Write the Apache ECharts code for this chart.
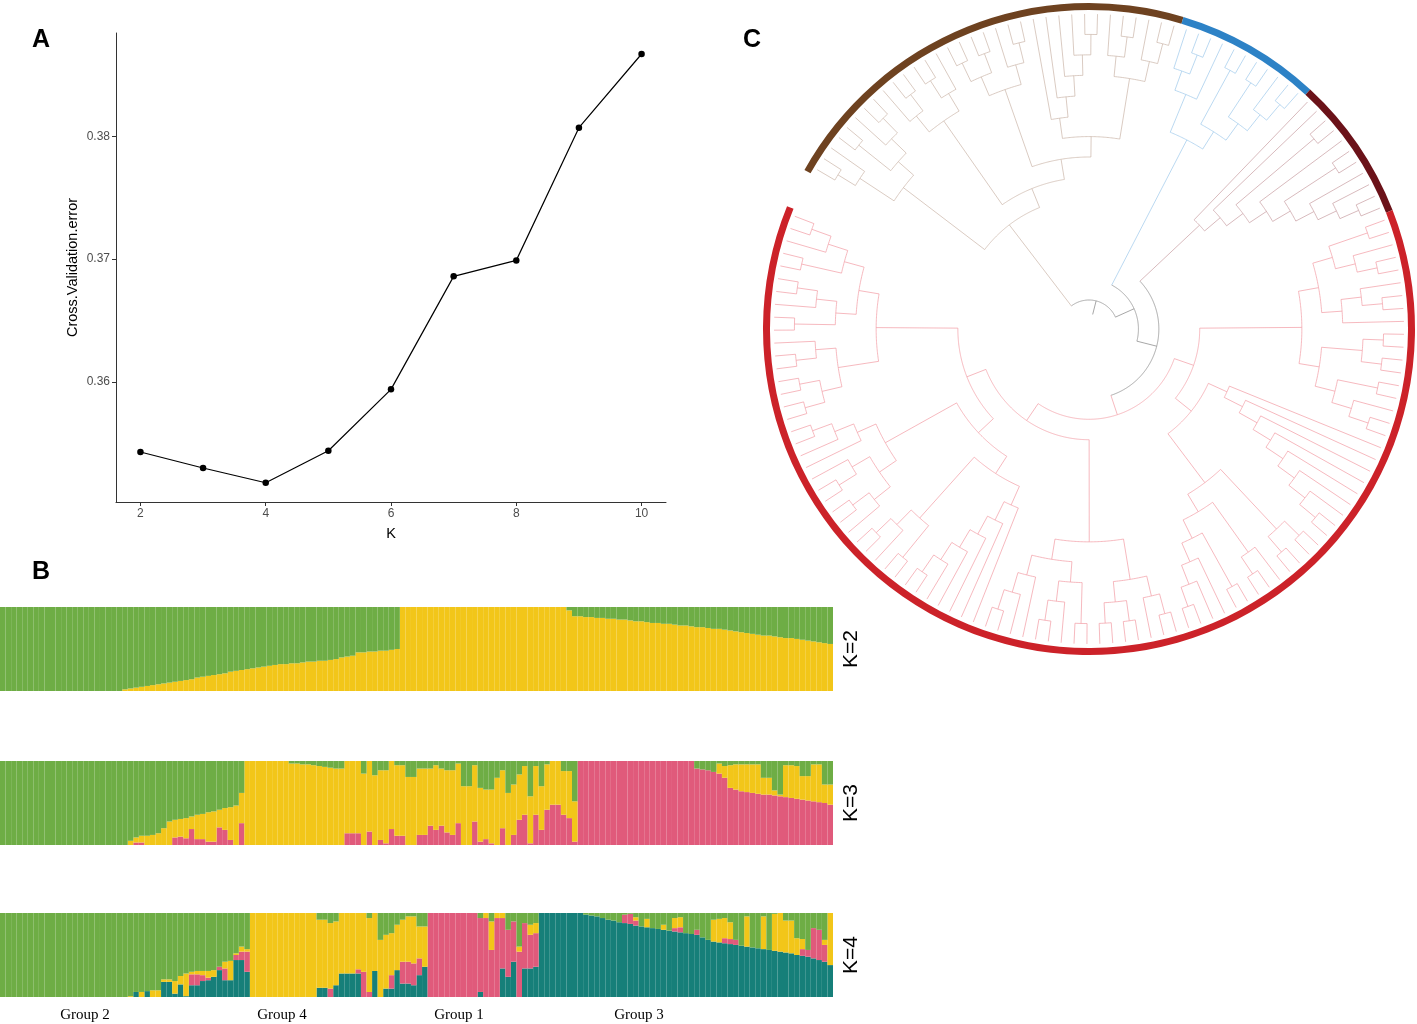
<!DOCTYPE html>
<html>
<head>
<meta charset="utf-8">
<title>ADMIXTURE cross-validation, ancestry and tree</title>
<script src="https://cdn.jsdelivr.net/npm/echarts@6.0.0/dist/echarts.min.js"></script>
<style>
  html, body { margin: 0; padding: 0; background: #ffffff; }
  #main { width: 1417px; height: 1024px; }
</style>
</head>
<body>
<div id="main"></div>
<script>
// ---- panel A: cross-validation error by K
const kValues = [2, 3, 4, 5, 6, 7, 8, 9, 10];
const cvError = [0.3543, 0.3530, 0.3518, 0.3544, 0.3594, 0.3686, 0.3699, 0.3807, 0.3867];
const kTicks = [2, 4, 6, 8, 10];
const cvTicks = [0.36, 0.37, 0.38];

// ---- panel B: ancestry proportions (%) per individual, 150 individuals
const k2Yellow = [
  0,0,0,0,0,0,0,0,0,0,
  0,0,0,0,0,0,0,0,0,0,
  0,0,2,3,4,5,6,7,8,9,
  10,11,12,13,14,16,17,18,19,20,
  21,23,24,25,26,27,28,29,30,31,
  32,32,33,33,34,35,35,36,36,37,
  38,40,41,42,46,46,47,47,48,48,
  49,50,100,100,100,100,100,100,100,100,
  100,100,100,100,100,100,100,100,100,100,
  100,100,100,100,100,100,100,100,100,100,
  100,100,96,89,89,88,88,87,87,86,
  86,85,85,84,83,83,82,81,81,80,
  80,79,78,78,77,76,76,75,74,74,
  73,72,71,70,69,68,67,66,66,65,
  64,63,63,62,61,60,59,58,57,56
];
const k2Green = [
  100,100,100,100,100,100,100,100,100,100,
  100,100,100,100,100,100,100,100,100,100,
  100,100,98,97,96,95,94,93,92,91,
  90,89,88,87,86,84,83,82,81,80,
  79,77,76,75,74,73,72,71,70,69,
  68,68,67,67,66,65,65,64,64,63,
  62,60,59,58,54,54,53,53,52,52,
  51,50,0,0,0,0,0,0,0,0,
  0,0,0,0,0,0,0,0,0,0,
  0,0,0,0,0,0,0,0,0,0,
  0,0,4,11,11,12,12,13,13,14,
  14,15,15,16,17,17,18,19,19,20,
  20,21,22,22,23,24,24,25,26,26,
  27,28,29,30,31,32,33,34,34,35,
  36,37,37,38,39,40,41,42,43,44
];

const k3Pink = [
  0,0,0,0,0,0,0,0,0,0,
  0,0,0,0,0,0,0,0,0,0,
  0,0,0,0,3,3,0,0,0,0,
  0,9,10,8,19,7,7,4,4,21,
  18,6,0,26,0,0,0,0,0,0,
  0,0,0,0,0,0,0,0,0,0,
  0,0,14,14,14,0,16,0,6,2,
  19,11,11,0,0,12,12,23,18,23,
  15,12,26,0,0,28,4,7,2,0,
  20,0,12,30,36,2,36,18,42,48,
  48,36,32,4,100,100,100,100,100,100,
  100,100,100,100,100,100,100,100,100,100,
  100,100,100,100,100,91,90,89,87,85,
  80,68,66,64,63,62,61,60,60,59,
  58,57,56,55,54,53,52,51,50,48
];
const k3Yellow = [
  0,0,0,0,0,0,0,0,0,0,
  0,0,0,0,0,0,0,0,0,0,
  0,0,0,5,6,8,11,12,14,20,
  28,21,21,24,15,29,30,35,36,21,
  26,39,47,36,100,100,100,100,100,100,
  100,100,97,97,96,96,95,94,93,92,
  91,91,86,86,86,85,84,83,83,87,
  81,84,84,81,81,79,79,68,77,68,
  74,77,71,70,70,67,64,59,64,80,
  69,62,60,54,58,56,58,52,54,52,
  52,52,56,48,0,0,0,0,0,0,
  0,0,0,0,0,0,0,0,0,0,
  0,0,0,0,0,0,0,0,0,12,
  14,27,30,32,33,34,35,20,20,6,
  2,38,39,39,28,29,44,45,22,24
];
const k3Green = [
  100,100,100,100,100,100,100,100,100,100,
  100,100,100,100,100,100,100,100,100,100,
  100,100,100,95,91,89,89,88,86,80,
  72,70,69,68,66,64,63,61,60,58,
  56,55,53,38,0,0,0,0,0,0,
  0,0,3,3,4,4,5,6,7,8,
  9,9,0,0,0,15,0,17,11,11,
  0,5,5,19,19,9,9,9,5,9,
  11,11,3,30,30,5,32,34,34,20,
  11,38,28,16,6,42,6,30,4,0,
  0,12,12,48,0,0,0,0,0,0,
  0,0,0,0,0,0,0,0,0,0,
  0,0,0,0,0,9,10,11,13,3,
  6,5,4,4,4,4,4,20,20,35,
  40,5,5,6,18,18,4,4,28,28
];

const k4Teal = [
  0,0,0,0,0,0,0,0,0,0,
  0,0,0,0,0,0,0,0,0,0,
  0,0,0,0,6,0,7,0,0,18,
  18,4,15,1,14,14,19,20,24,32,
  20,20,44,44,30,0,0,0,0,0,
  0,0,0,0,0,0,0,11,11,0,
  14,28,28,28,28,0,0,31,0,10,
  10,32,16,16,14,26,36,0,0,0,
  0,0,0,0,0,0,6,0,0,0,
  34,24,42,0,34,34,36,100,100,100,
  100,100,100,100,100,98,97,96,94,92,
  91,89,88,87,85,84,83,82,81,80,
  79,78,77,76,75,74,71,68,66,65,
  64,63,62,61,60,59,58,57,56,55,
  54,53,52,50,49,48,46,44,42,38
];
const k4Pink = [
  0,0,0,0,0,0,0,0,0,0,
  0,0,0,0,0,0,0,0,0,0,
  0,0,0,0,0,0,0,0,0,0,
  0,0,0,0,13,13,7,3,0,4,
  14,0,6,10,24,0,0,0,0,0,
  0,0,0,0,0,0,0,0,0,10,
  0,0,0,0,5,30,6,0,0,0,
  16,0,26,26,26,20,0,100,100,100,
  100,100,100,100,100,100,88,94,56,94,
  60,56,48,54,54,40,40,0,0,0,
  0,0,0,0,0,0,0,0,0,0,
  0,0,10,12,6,0,0,0,0,0,
  0,4,6,0,0,6,0,0,0,0,
  6,6,6,0,0,0,0,0,0,0,
  0,0,0,0,8,8,36,36,20,0
];
const k4Yellow = [
  0,0,0,0,0,0,0,0,0,0,
  0,0,0,0,0,0,0,0,0,0,
  0,0,0,1,0,6,0,8,8,3,
  3,15,10,27,3,4,5,8,8,0,
  8,23,2,6,3,100,100,100,100,100,
  100,100,100,100,100,100,100,81,81,78,
  76,72,72,72,67,70,88,69,68,64,
  50,54,50,54,56,38,48,0,0,0,
  0,0,0,0,0,0,0,6,34,6,
  6,0,0,6,0,12,12,0,0,0,
  0,0,0,0,0,0,0,0,0,0,
  0,0,0,0,4,0,10,0,0,6,
  0,12,12,0,0,0,0,0,26,28,
  24,20,0,0,36,0,0,39,0,44,
  46,38,39,20,12,0,0,0,6,62
];
const k4Green = [
  100,100,100,100,100,100,100,100,100,100,
  100,100,100,100,100,100,100,100,100,100,
  100,100,100,99,94,94,93,92,92,79,
  79,81,75,72,70,69,69,69,68,64,
  58,57,48,40,43,0,0,0,0,0,
  0,0,0,0,0,0,0,8,8,12,
  10,0,0,0,0,0,6,0,32,26,
  24,14,8,4,4,16,16,0,0,0,
  0,0,0,0,0,0,6,0,10,0,
  0,20,10,40,12,14,12,0,0,0,
  0,0,0,0,0,2,3,4,6,8,
  9,11,2,1,5,16,7,18,19,14,
  21,6,5,24,25,20,29,32,8,7,
  6,11,32,39,4,41,42,4,44,1,
  0,9,9,30,31,44,18,20,32,0
];
const kLabels = ['K=2', 'K=3', 'K=4'];
const groupNames = ['Group 2', 'Group 4', 'Group 1', 'Group 3'];

// ---- panel C: tree topology, leaves are 1, read clockwise
const brownA = [[[1, 1], 1], [[1, 1], [1, [1, 1]]]];
const brownB = [[1, [1, 1]], [[1, 1], 1]];
const brownC = [[[1, 1], [1, 1]], [1, [1, 1]]];
const brownD = [1, [1, [1, [1, [1, 1]]]]];
const brownE = [[1, [1, 1]], [1, [1, 1]]];
const blueTree = [[[1, [1, 1]], 1], [[1, 1], [[1, 1], [1, [1, 1]]]]];
const maroonTree = [1, [1, [[1, 1], [1, [[1, 1], [1, [1, [1, 1]]]]]]]];
const redR1 = [[[[1, 1], [1, [1, 1]]], [[1, [1, 1]], 1]], [[[1, 1], [1, 1]], [[1, 1], [1, [1, 1]]]]];
const redR2 = [[1, [1, [1, [1, [1, [1, [1, [1, 1]]]]]]]], [[[1, 1], [1, 1]], [[1, [1, 1]], [[1, 1], [1, [1, [1, 1]]]]]]];
const redR3 = [[[[1, 1], 1], [[1, 1], [1, 1]]], [[[1, 1], [1, [1, 1]]], [1, [1, [1, 1]]]]];
const redR4 = [[[1, [1, [1, [1, [1, [1, 1]]]]]], [[1, 1], [1, [1, 1]]]], [[[1, [1, 1]], [[1, 1], 1]], [1, [1, [1, 1]]]]];
const redR5 = [[[[1, 1], [1, 1]], [[1, 1], 1]], [[[1, 1], [1, [1, 1]]], [[1, 1], [1, [1, 1]]]]];
const brownTree = [brownA, [brownB, [brownC, [brownD, brownE]]]];
const redTree = [[redR1, redR2], [redR3, [redR4, redR5]]];
const cladeTrees = [brownTree, blueTree, maroonTree, redTree];
const backbone = [0, [1, [2, 3]]];   // clade indices
const gapSlots = 3;

const ringColors = ['#6E4220', '#2D82C6', '#6B1219', '#CC2229'];
const edgeColors = ['#CDB9AD', '#A4CCEC', '#CBA3A7', '#F3A1A9'];
const backboneColor = '#8A8A8A';

const colGreen = '#6EAD45', colYellow = '#F2C619', colPink = '#E05A7B', colTeal = '#167F79';

// ---- tree layout (cladogram, tips aligned)
const LEAF_R = 315, ROOT_R = 29, STUB_R = 15;

function countLeaves(node) {
  return node === 1 ? 1 : node.reduce((s, c) => s + countLeaves(c), 0);
}
function finish(kids, clade) {
  let h = 0, sum = 0;
  kids.forEach(k => { h = Math.max(h, k.height); sum += k.angle; });
  return { angle: sum / kids.length, height: h + 1, clade: clade, kids: kids };
}
function walkClade(node, clade, acc) {
  if (node === 1) {
    const leaf = { angle: acc.next + 0.5, height: 0, clade: clade, kids: [] };
    acc.next++;
    return leaf;
  }
  return finish(node.map(ch => walkClade(ch, clade, acc)), clade);
}
function walkBackbone(node, acc) {
  if (typeof node === 'number') return walkClade(cladeTrees[node], node, acc);
  return finish(node.map(ch => walkBackbone(ch, acc)), -1);
}

const acc = { next: 0 };
const root = walkBackbone(backbone, acc);
const totalSlots = acc.next + gapSlots;
const step = (LEAF_R - ROOT_R) / root.height;

const treeItems = [];
function collect(node, parentR) {
  const r = LEAF_R - node.height * step;
  const angs = node.kids.map(k => k.angle);
  const a0 = angs.length ? Math.min.apply(null, angs) : node.angle;
  const a1 = angs.length ? Math.max.apply(null, angs) : node.angle;
  treeItems.push({
    value: [r, node.angle, parentR, a0, a1],
    itemStyle: { color: node.clade < 0 ? backboneColor : edgeColors[node.clade] }
  });
  node.kids.forEach(k => collect(k, r));
}
collect(root, STUB_R);

const ringData = cladeTrees.map((t, i) => ({
  value: countLeaves(t), itemStyle: { color: ringColors[i] }
}));
ringData.push({ value: gapSlots, itemStyle: { color: 'rgba(0,0,0,0)' } });

function renderTree(params, api) {
  const r = api.value(0), a = api.value(1), pr = api.value(2);
  const a0 = api.value(3), a1 = api.value(4);
  const color = api.visual('color');
  const p1 = api.coord([r, a]);
  const p2 = api.coord([pr, a]);
  const parts = [{
    type: 'line',
    shape: { x1: p1[0], y1: p1[1], x2: p2[0], y2: p2[1] },
    style: { stroke: color, lineWidth: 0.75 }
  }];
  if (a1 > a0) {
    const n = Math.max(2, Math.ceil((a1 - a0) * 6));
    const pts = [];
    for (let k = 0; k <= n; k++) pts.push(api.coord([r, a0 + (a1 - a0) * k / n]));
    parts.push({
      type: 'polyline',
      shape: { points: pts },
      style: { stroke: color, fill: null, lineWidth: 0.75 }
    });
  }
  return { type: 'group', children: parts };
}

// ---- structure bars
const samples = k2Green.map((v, i) => 'S' + (i + 1));
const barGrids = [607, 761, 913];

function barSeries(gridIdx, parts) {
  return parts.map(p => ({
    type: 'bar',
    name: p[0],
    stack: 'k' + gridIdx,
    xAxisIndex: gridIdx,
    yAxisIndex: gridIdx,
    data: p[1],
    barCategoryGap: '0%',
    barWidth: '100%',
    itemStyle: { color: p[2] },
    silent: true
  }));
}

const grids = [{ left: 116, top: 33, width: 550, height: 469 }];
const xAxes = [{
  type: 'value', gridIndex: 0, min: 1.61, max: 10.39,
  axisLine: { show: true, lineStyle: { color: '#333', width: 1 } },
  axisTick: { show: true, customValues: kTicks, length: 4, lineStyle: { color: '#333' } },
  axisLabel: { customValues: kTicks, color: '#4D4D4D', fontSize: 12, margin: 6, fontFamily: 'Liberation Sans' },
  splitLine: { show: false },
  name: 'K', nameLocation: 'middle', nameGap: 24,
  nameTextStyle: { color: '#000', fontSize: 14.5, fontFamily: 'Liberation Sans' }
}];
const yAxes = [{
  type: 'value', gridIndex: 0, min: 0.35023, max: 0.38841,
  axisLine: { show: true, lineStyle: { color: '#333', width: 1 } },
  axisTick: { show: true, customValues: cvTicks, length: 4, lineStyle: { color: '#333' } },
  axisLabel: { customValues: cvTicks, color: '#4D4D4D', fontSize: 12, margin: 6,
    fontFamily: 'Liberation Sans', formatter: v => v.toFixed(2) },
  splitLine: { show: false },
  name: 'Cross.Validation.error', nameLocation: 'middle', nameGap: 36, nameRotate: 90,
  nameTextStyle: { color: '#000', fontSize: 14.5, fontFamily: 'Liberation Sans' }
}];
barGrids.forEach((top, i) => {
  grids.push({ left: 0, top: top, width: 833, height: 84 });
  xAxes.push({ type: 'category', gridIndex: i + 1, data: samples, show: false });
  yAxes.push({ type: 'value', gridIndex: i + 1, min: 0, max: 100, show: false });
});

const series = [{
  type: 'line',
  xAxisIndex: 0, yAxisIndex: 0,
  data: kValues.map((k, i) => [k, cvError[i]]),
  lineStyle: { color: '#000', width: 1.2 },
  itemStyle: { color: '#000' },
  symbol: 'circle', symbolSize: 6.5,
  silent: true
}].concat(
  barSeries(1, [['yellow', k2Yellow, colYellow], ['green', k2Green, colGreen]]),
  barSeries(2, [['pink', k3Pink, colPink], ['yellow', k3Yellow, colYellow], ['green', k3Green, colGreen]]),
  barSeries(3, [['teal', k4Teal, colTeal], ['pink', k4Pink, colPink], ['yellow', k4Yellow, colYellow], ['green', k4Green, colGreen]]),
  [{
    type: 'custom',
    coordinateSystem: 'polar',
    polarIndex: 0,
    encode: { radius: 0, angle: 1 },
    renderItem: renderTree,
    data: treeItems,
    silent: true
  }, {
    type: 'pie',
    center: [1089, 329],
    radius: [319, 326],
    startAngle: 150.8,
    clockwise: true,
    label: { show: false },
    labelLine: { show: false },
    itemStyle: { borderWidth: 0 },
    emphasis: { disabled: true },
    silent: true,
    data: ringData
  }]
);

const panelFont = 'bold 25px "Liberation Sans"';
const graphics = [
  { type: 'text', x: 32, y: 28, style: { text: 'A', font: panelFont, fill: '#000' } },
  { type: 'text', x: 32, y: 560, style: { text: 'B', font: panelFont, fill: '#000' } },
  { type: 'text', x: 743, y: 28, style: { text: 'C', font: panelFont, fill: '#000' } }
];
barGrids.forEach((top, i) => {
  graphics.push({
    type: 'text', x: 851, y: top + 42, rotation: Math.PI / 2,
    style: { text: kLabels[i], font: '21px "Liberation Sans"', fill: '#000',
      align: 'center', verticalAlign: 'middle', textAlign: 'center', textVerticalAlign: 'middle' }
  });
});
[85, 282, 459, 639].forEach((x, i) => {
  graphics.push({
    type: 'text', x: x, y: 1015,
    style: { text: groupNames[i], font: '15px "Liberation Serif"', fill: '#000',
      align: 'center', verticalAlign: 'middle', textAlign: 'center', textVerticalAlign: 'middle' }
  });
});

const chart = echarts.init(document.getElementById('main'));
chart.setOption({
  animation: false,
  backgroundColor: '#ffffff',
  grid: grids,
  xAxis: xAxes,
  yAxis: yAxes,
  polar: { center: [1089, 329], radius: 326 },
  angleAxis: {
    type: 'value', min: 0, max: totalSlots, startAngle: 150.8, clockwise: true,
    axisLine: { show: false }, axisTick: { show: false }, axisLabel: { show: false },
    splitLine: { show: false }
  },
  radiusAxis: {
    type: 'value', min: 0, max: 326,
    axisLine: { show: false }, axisTick: { show: false }, axisLabel: { show: false },
    splitLine: { show: false }
  },
  graphic: graphics,
  series: series
});
</script>
</body>
</html>
